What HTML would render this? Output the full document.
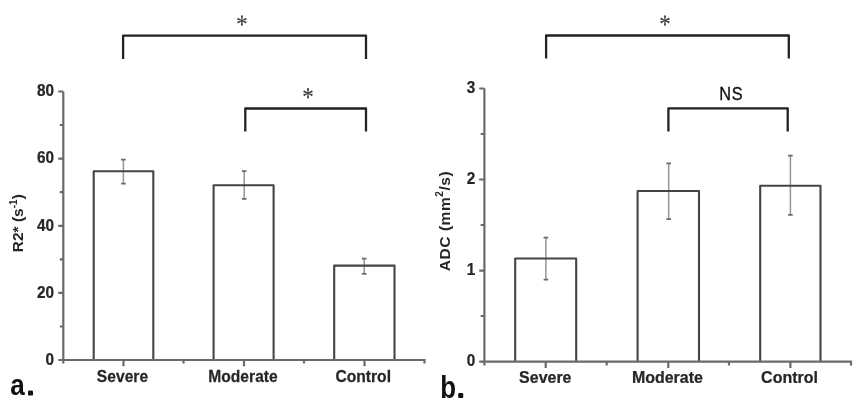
<!DOCTYPE html>
<html>
<head>
<meta charset="utf-8">
<style>
html,body{margin:0;padding:0;background:#fff;}
body{width:865px;height:411px;overflow:hidden;}
svg{display:block;filter:blur(0.35px);}
text{font-family:"Liberation Sans",sans-serif;}
.tl{font-size:17px;font-weight:bold;fill:#262626;stroke:#262626;stroke-width:0.25px;}
.cat{font-size:17px;font-weight:bold;fill:#262626;stroke:#262626;stroke-width:0.25px;}
.ttl{font-size:15.5px;letter-spacing:0.2px;font-weight:bold;fill:#262626;}
.sup{font-size:10px;}
.pl{font-size:28.5px;font-weight:bold;fill:#111;}
.ax{stroke:#6a6a6a;stroke-width:2.2;fill:none;}
.bar{stroke:#444;stroke-width:2.1;fill:none;stroke-linejoin:round;}
.err{stroke:#959595;stroke-width:1.5;fill:none;}
.cap{stroke:#6a6a6a;stroke-width:1.8;fill:none;}
.br{stroke:#222;stroke-width:2.3;fill:none;stroke-linejoin:round;}
</style>
</head>
<body>
<svg width="865" height="411" viewBox="0 0 865 411">
<path class="err" d="M123.4 159.7 V183.6"/>
<path class="cap" d="M121.1 159.7 H125.7 M121.1 183.6 H125.7"/>
<path class="err" d="M244.2 171.2 V198.8"/>
<path class="cap" d="M241.9 171.2 H246.5 M241.9 198.8 H246.5"/>
<path class="err" d="M364.2 258.6 V273.9"/>
<path class="cap" d="M361.9 258.6 H366.5 M361.9 273.9 H366.5"/>
<path class="bar" d="M93.7 360 V171.2 H153.3 V360"/>
<path class="bar" d="M213.6 360 V185.3 H273.6 V360"/>
<path class="bar" d="M334.2 360 V265.6 H394.5 V360"/>
<path class="ax" d="M63.3 91.5 V363.5 M58.3 360 H424.5 V363.5"/>
<path class="ax" d="M58.3 91.5 H63.3 M58.3 158.6 H63.3 M58.3 225.8 H63.3 M58.3 292.9 H63.3 M59.8 125 H63.3 M59.8 192.2 H63.3 M59.8 259.3 H63.3 M59.8 326.5 H63.3 M123.5 360 V366.3 M244 360 V366.3 M364.5 360 V366.3 M183.5 360 V363.5 M304 360 V363.5"/>
<text class="tl" transform="translate(53.9 96) scale(0.9 1)" text-anchor="end">80</text>
<text class="tl" transform="translate(53.9 163.3) scale(0.9 1)" text-anchor="end">60</text>
<text class="tl" transform="translate(53.9 230.6) scale(0.9 1)" text-anchor="end">40</text>
<text class="tl" transform="translate(53.9 297.8) scale(0.9 1)" text-anchor="end">20</text>
<text class="tl" transform="translate(53.9 364.8) scale(0.9 1)" text-anchor="end">0</text>
<text class="cat" transform="translate(122.5 381.6) scale(0.92 1)" text-anchor="middle">Severe</text>
<text class="cat" transform="translate(243 381.6) scale(0.92 1)" text-anchor="middle">Moderate</text>
<text class="cat" transform="translate(363.2 381.6) scale(0.92 1)" text-anchor="middle">Control</text>
<text class="ttl" transform="translate(23 252.2) rotate(-90)" style="letter-spacing:0">R2* (s<tspan dy="-6.5" class="sup">-1</tspan><tspan dy="6.5">)</tspan></text>
<path class="br" d="M123.1 59 V35.7 H366 V59"/>
<path class="br" d="M245.3 131.4 V108.5 H366 V131.4"/>
<path fill="#3a3a3a" d="M242.25 20.6 L242.95 15.6 L240.85 15.6 L241.55 20.6Z M241.55 20.6 L240.85 25.6 L242.95 25.6 L242.25 20.6Z M242.04 20.28 L237.93 17.64 L237.07 19.56 L241.76 20.92Z M242.04 20.92 L246.73 19.56 L245.87 17.64 L241.76 20.28Z M241.76 20.28 L237.07 21.64 L237.93 23.56 L242.04 20.92Z M241.76 20.92 L245.87 23.56 L246.73 21.64 L242.04 20.28Z"/>
<path fill="#3a3a3a" d="M308.35 93.3 L309.05 88.3 L306.95 88.3 L307.65 93.3Z M307.65 93.3 L306.95 98.3 L309.05 98.3 L308.35 93.3Z M308.14 92.98 L304.03 90.34 L303.17 92.26 L307.86 93.62Z M308.14 93.62 L312.83 92.26 L311.97 90.34 L307.86 92.98Z M307.86 92.98 L303.17 94.34 L304.03 96.26 L308.14 93.62Z M307.86 93.62 L311.97 96.26 L312.83 94.34 L308.14 92.98Z"/>
<text class="pl" transform="translate(10.3 394.8) scale(0.9 1)" style="font-size:29px">a</text>
<rect x="28" y="390.6" width="5" height="5" rx="1.2" fill="#111"/>
<path class="err" d="M545.9 237.6 V279.6"/>
<path class="cap" d="M543.6 237.6 H548.2 M543.6 279.6 H548.2"/>
<path class="err" d="M668.7 163.3 V219.1"/>
<path class="cap" d="M666.4 163.3 H671 M666.4 219.1 H671"/>
<path class="err" d="M790.4 155.6 V214.9"/>
<path class="cap" d="M788.1 155.6 H792.7 M788.1 214.9 H792.7"/>
<path class="bar" d="M515.2 361.6 V258.5 H576.2 V361.6"/>
<path class="bar" d="M637.6 361.6 V191 H699 V361.6"/>
<path class="bar" d="M760.2 361.6 V185.7 H820.5 V361.6"/>
<path class="ax" d="M484.4 88.5 V365.4 M479.2 361.6 H851 V365.4"/>
<path class="ax" d="M479.2 88.5 H484.4 M479.2 179.5 H484.4 M479.2 270.6 H484.4 M480.6 134 H484.4 M480.6 225 H484.4 M480.6 316 H484.4 M545.7 361.6 V368 M668.3 361.6 V368 M790.4 361.6 V368 M606.7 361.6 V365.4 M729 361.6 V365.4"/>
<text class="tl" transform="translate(475.3 92.8) scale(0.9 1)" text-anchor="end">3</text>
<text class="tl" transform="translate(475.3 184.1) scale(0.9 1)" text-anchor="end">2</text>
<text class="tl" transform="translate(475.3 275.2) scale(0.9 1)" text-anchor="end">1</text>
<text class="tl" transform="translate(475.3 366) scale(0.9 1)" text-anchor="end">0</text>
<text class="cat" transform="translate(545.3 382.6) scale(0.94 1)" text-anchor="middle">Severe</text>
<text class="cat" transform="translate(667.4 382.6) scale(0.94 1)" text-anchor="middle">Moderate</text>
<text class="cat" transform="translate(789.5 382.6) scale(0.94 1)" text-anchor="middle">Control</text>
<text class="ttl" transform="translate(449.8 271.2) rotate(-90)" style="letter-spacing:0.55px">ADC (mm<tspan dy="-6.5" class="sup">2</tspan><tspan dy="6.5">/s)</tspan></text>
<path class="br" d="M546.1 58.6 V35.5 H788.8 V58.6"/>
<path class="br" d="M668.4 131.4 V108.4 H787.7 V131.4"/>
<path fill="#3a3a3a" d="M665.35 20.5 L666.05 15.5 L663.95 15.5 L664.65 20.5Z M664.65 20.5 L663.95 25.5 L666.05 25.5 L665.35 20.5Z M665.14 20.18 L661.03 17.54 L660.17 19.46 L664.86 20.82Z M665.14 20.82 L669.83 19.46 L668.97 17.54 L664.86 20.18Z M664.86 20.18 L660.17 21.54 L661.03 23.46 L665.14 20.82Z M664.86 20.82 L668.97 23.46 L669.83 21.54 L665.14 20.18Z"/>
<text transform="translate(719.3 99.9) scale(0.86 1)" style="font-size:19px;fill:#111;stroke:#111;stroke-width:0.35;letter-spacing:0.9px">NS</text>
<text class="pl" transform="translate(440.2 398.2) scale(0.82 1)" style="font-size:31.5px">b</text>
<rect x="458.2" y="393.1" width="5" height="5" rx="1.2" fill="#111"/>
</svg>
</body>
</html>
